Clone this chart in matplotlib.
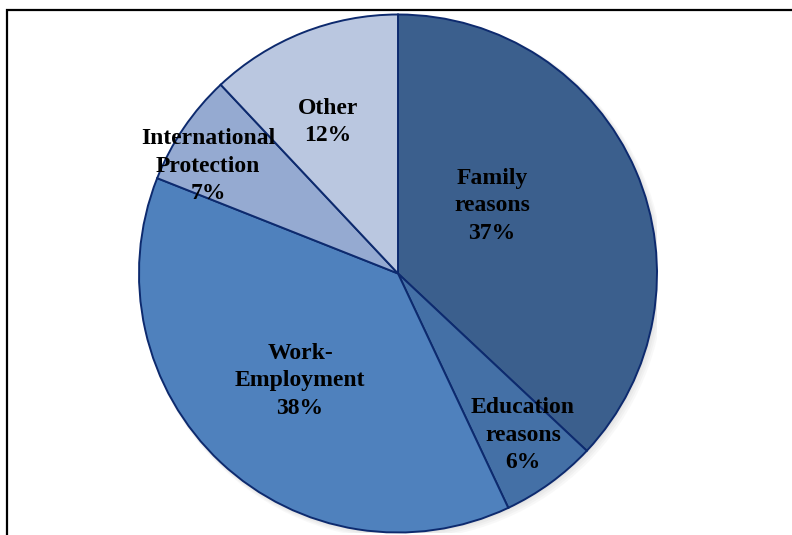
import matplotlib.pyplot as plt
from matplotlib.patches import Circle, Rectangle

# reasons for first residence permits, share of total
categories = ['Family\nreasons', 'Education\nreasons', 'Work-\nEmployment',
              'International\nProtection', 'Other']
shares = [37, 6, 38, 7, 12]
colors = ['#3b5f8d', '#4470a6', '#4f81bd', '#95aad1', '#bac7e0']
# where each label sits, in units of the pie radius
label_pos = [(0.363, 0.261), (0.483, -0.624), (-0.378, -0.415),
             (-0.734, 0.415), (-0.270, 0.585)]

W, H = 792, 535
fig = plt.figure(figsize=(W / 100, H / 100), dpi=100)
cx, cy, R = 398, 273.5, 259
ax = fig.add_axes([(cx - R) / W, (H - cy - R) / H, 2 * R / W, 2 * R / H])
ax.set_xlim(-1, 1)
ax.set_ylim(-1, 1)
ax.set_aspect('equal')
ax.axis('off')

# soft drop shadow behind the pie
for k, a in enumerate([0.05, 0.05, 0.06, 0.07]):
    off = 0.004 * (4 - k)
    ax.add_patch(Circle((off, -off), 1 + 0.003 * (4 - k), color='#808080',
                        alpha=a, lw=0, zorder=0))

ax.pie(shares, colors=colors, startangle=90, counterclock=False, radius=1,
       wedgeprops=dict(edgecolor='#0d2a6e', linewidth=1.4))
ax.set_xlim(-1, 1)
ax.set_ylim(-1, 1)

for name, val, (x, y) in zip(categories, shares, label_pos):
    ax.text(x, y, f'{name}\n{val}%', ha='center', va='center',
            family='Liberation Serif', fontweight='bold', fontsize=17,
            linespacing=1.42, color='black', zorder=5)

# chart border (runs off the right and bottom edges)
fig.add_artist(Rectangle((7 / W, -0.1), 1.2, 1.1 - 10 / H, fill=False,
                         edgecolor='black', lw=1.6,
                         transform=fig.transFigure, clip_on=False))

fig.savefig('out.png', dpi=100)
